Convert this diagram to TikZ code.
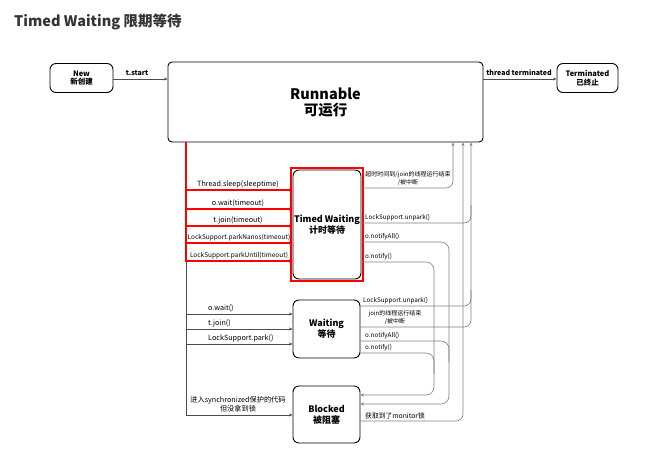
\documentclass[tikz,border=0pt]{standalone}
\usepackage{fontspec}
\setmainfont{Noto Sans CJK SC}
\usetikzlibrary{arrows.meta}
\begin{document}
\begin{tikzpicture}[x=1pt,y=-1pt,
  state/.style={draw, line width=0.9pt, rounded corners=6pt, align=center, inner sep=0pt,
    font=\fontsize{9}{11}\selectfont\bfseries},
  lbl/.style={font=\fontsize{7.2}{8.5}\selectfont, inner sep=0pt},
  rlbl/.style={font=\fontsize{6.3}{7.5}\selectfont, inner sep=0pt},
  tlbl/.style={font=\fontsize{7}{8}\selectfont\bfseries, inner sep=0pt, anchor=base},
  arr/.style={-{Stealth[length=3.5pt,width=3pt]}},
  lline/.style={draw=black!70, line width=0.6pt},
  rline/.style={draw=black!50, line width=0.6pt},
  redl/.style={draw=red, line width=1.2pt}]
\path[use as bounding box] (0,0) rectangle (664,456);

\node[anchor=base west, inner sep=0pt, font=\fontsize{14.5}{16}\selectfont\bfseries, text=black!80] (title) at (14,26.5) {Timed Waiting 限期等待};

% states
\node[state, minimum width=63pt, minimum height=29pt, font=\fontsize{7.5}{8.5}\selectfont\bfseries] (new) at (81.5,78) {New\\新创建};
\node[state, rounded corners=4pt, minimum width=315pt, minimum height=80pt, font=\fontsize{14.5}{16}\selectfont\bfseries] (run) at (325.5,102) {Runnable\\可运行};
\node[state, minimum width=61pt, minimum height=29pt, font=\fontsize{7.5}{8.5}\selectfont\bfseries] (term) at (587.5,78) {Terminated\\已终止};
\node[state, minimum width=68pt, minimum height=109pt] (timed) at (327,224.5) {Timed Waiting\\计时等待};
\draw[redl] (291,168) rectangle (363,281);
\node[state, minimum width=67pt, minimum height=58pt] (wait) at (326.5,329) {Waiting\\等待};
\node[state, minimum width=67pt, minimum height=57pt] (blocked) at (326.5,414.5) {Blocked\\被阻塞};

% top transitions
\draw[lline, arr] (new.east |- 0,79) -- (run.west |- 0,79);
\node[tlbl] (ls) at (137,75) {t.start};
\draw[lline, arr] (run.east |- 0,79) -- (term.west |- 0,79);
\node[tlbl] (lt) at (519,75) {thread terminated};

% left bus
\draw[lline, arr] (run.south -| 186,0) -- (186,415) -- (blocked.west |- 0,415);
\draw[redl, arr] (run.south -| 186,0) -- (186,261) -- (timed.west |- 0,261);
\foreach \yy in {190,209,226,243} {
  \draw[redl, arr] (186,\yy) -- (timed.west |- 0,\yy);
}
\node[lbl, anchor=base] (l1) at (238,186.5) {Thread.sleep(sleeptime)};
\node[lbl, anchor=base] (l2) at (238,205.5) {o.wait(timeout)};
\node[lbl, anchor=base] (l3) at (238,222.5) {t.join(timeout)};
\node[lbl, anchor=base, font=\fontsize{6.5}{8}\selectfont] (l4) at (239,239.5) {LockSupport.parkNanos(timeout)};
\node[lbl, anchor=base, font=\fontsize{6.5}{8}\selectfont] (l5) at (239,257.5) {LockSupport.parkUntil(timeout)};

\foreach \yy in {314,329,344} {
  \draw[lline, arr] (186,\yy) -- (wait.west |- 0,\yy);
}
\node[lbl, anchor=base west] (w1) at (208,310) {o.wait()};
\node[lbl, anchor=base west] (w2) at (208,325) {t.join()};
\node[lbl, anchor=base west] (w3) at (208,340) {LockSupport.park()};
\node[lbl, anchor=south, align=center] (b1) at (238,412) {进入synchronized保护的代码\\但没拿到锁};

% right side
\draw[rline, arr, rounded corners=7pt] (timed.east |- 0,188) -- (453,188) -- (run.south -| 453,0);
\draw[rline, arr, rounded corners=7pt] (wait.east |- 0,327) -- (471,327) -- (run.south -| 471,0);
\draw[rline, rounded corners=7pt] (timed.east |- 0,223) -- (471,223) -- (471,205);
\draw[rline, rounded corners=7pt] (wait.east |- 0,306) -- (471,306) -- (471,290);
\draw[rline, arr, rounded corners=7pt] (blocked.east |- 0,421) -- (463,421) -- (run.south -| 463,0);
\draw[rline, arr, rounded corners=8pt] (timed.east |- 0,242) -- (449,242) -- (449,404) -- (blocked.east |- 0,404);
\draw[rline, rounded corners=8pt] (wait.east |- 0,341) -- (449,341) -- (449,362);
\draw[rline, arr, rounded corners=8pt] (timed.east |- 0,262) -- (434,262) -- (434,395) -- (blocked.east |- 0,395);
\draw[rline, rounded corners=8pt] (wait.east |- 0,353) -- (434,353) -- (434,374);

\node[rlbl, anchor=south, align=center, font=\fontsize{6}{7.5}\selectfont] (r1) at (408,185.5) {超时时间到/join的线程运行结束\\/被中断};
\node[rlbl, anchor=base west] (r2) at (365,219.5) {LockSupport.unpark()};
\node[rlbl, anchor=base west] (r3) at (365,238.5) {o.notifyAll()};
\node[rlbl, anchor=base west] (r4) at (365,258.5) {o.notify()};
\node[rlbl, anchor=base west] (r5) at (363,302.5) {LockSupport.unpark()};
\node[rlbl, anchor=south, align=center, font=\fontsize{6}{7.5}\selectfont] (r6) at (395,324.5) {join的线程运行结束\\/被中断};
\node[rlbl, anchor=base west] (r7) at (365,337.5) {o.notifyAll()};
\node[rlbl, anchor=base west] (r8) at (365,349.5) {o.notify()};
\node[rlbl, anchor=base west, font=\fontsize{6.8}{8}\selectfont] (r9) at (365,418) {获取到了monitor锁};
\end{tikzpicture}
\end{document}
